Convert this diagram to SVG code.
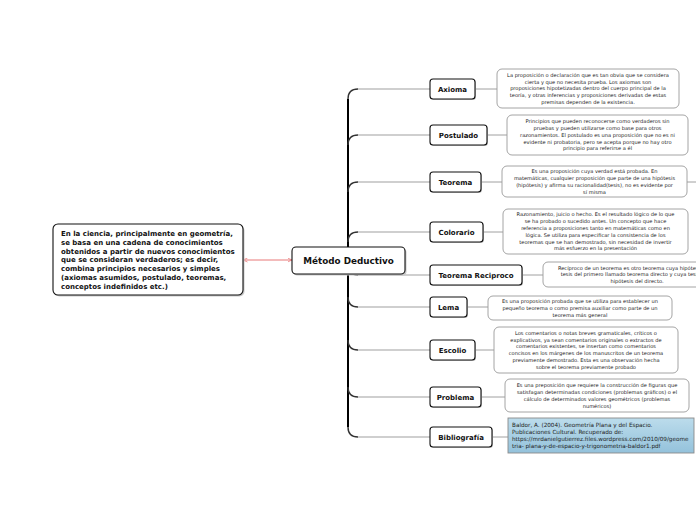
<svg xmlns="http://www.w3.org/2000/svg" width="696" height="520" viewBox="0 0 696 520">
<defs>
<style>
.node rect.b{fill:#fff;stroke:#111;stroke-width:1.1}
.node rect.s{fill:#c8c8c8}
.node text{font-family:"DejaVu Sans",Verdana,sans-serif;font-weight:bold;font-size:7px;fill:#111;text-anchor:middle}
.desc rect{fill:#fff;stroke:#9a9a9a;stroke-width:0.9}
.desc text{font-family:"DejaVu Sans",Verdana,sans-serif;font-size:5.1px;fill:#222;text-anchor:middle}
.bib text{text-anchor:start;font-size:5.7px;fill:#222}
.curve{fill:none;stroke:#333;stroke-width:1.4}
.line{fill:none;stroke:#a0a0a0;stroke-width:1.1}
.dl{fill:none;stroke:#a0a0a0;stroke-width:1}
</style>
<marker id="ar" viewBox="0 0 10 10" refX="9" refY="5" markerWidth="5" markerHeight="5" orient="auto-start-reverse">
<path d="M0,1 L9,5 L0,9" fill="none" stroke="#e87878" stroke-width="1.5"/>
</marker>
<linearGradient id="bg" x1="0" y1="0" x2="0" y2="1">
<stop offset="0" stop-color="#bcdcec"/>
<stop offset="1" stop-color="#94c2db"/>
</linearGradient>
</defs>
<rect width="696" height="520" fill="#fff"/>
<g id="connectors">
<line x1="243" y1="260" x2="292" y2="260" stroke="#e87878" stroke-width="1" marker-start="url(#ar)" marker-end="url(#ar)"/>
<line x1="348" y1="99" x2="348" y2="427" stroke="#000" stroke-width="2"/>
<path class="curve" d="M348,99 Q348,89 358,89"/><path class="line" d="M358,89 L430,89"/>
<path class="curve" d="M348,145 Q348,135 358,135"/><path class="line" d="M358,135 L430,135"/>
<path class="curve" d="M348,192 Q348,182 358,182"/><path class="line" d="M358,182 L430,182"/>
<path class="curve" d="M348,242 Q348,232 358,232"/><path class="line" d="M358,232 L430,232"/>
<path class="curve" d="M348,265 Q348,275 358,275"/><path class="line" d="M358,275 L430,275"/>
<path class="curve" d="M348,297 Q348,307 358,307"/><path class="line" d="M358,307 L430,307"/>
<path class="curve" d="M348,340 Q348,350 358,350"/><path class="line" d="M358,350 L430,350"/>
<path class="curve" d="M348,387 Q348,397 358,397"/><path class="line" d="M358,397 L430,397"/>
<path class="curve" d="M348,427 Q348,437 358,437"/><path class="line" d="M358,437 L430,437"/>
<path class="dl" d="M475,89 L497,89"/>
<path class="dl" d="M487,135 L507,135"/>
<path class="dl" d="M481,182 L502,182"/>
<path class="dl" d="M687,182 L696,182"/>
<path class="dl" d="M483,232 L503,232"/>
<path class="dl" d="M522,275 L543,275"/>
<path class="dl" d="M467,307 L488,307"/>
<path class="dl" d="M475,350 L494,350"/>
<path class="dl" d="M481,397 L505,397"/>
<path class="dl" d="M492,437 L508,437"/>
</g>
<g id="intro" class="node">
<rect class="s" x="54.5" y="225.5" width="190" height="71" rx="5"/>
<rect class="b" x="53" y="224" width="190" height="71" rx="5"/>
<text x="61" y="236" style="text-anchor:start">En la ciencia, principalmente en geometría,</text>
<text x="61" y="244.8" style="text-anchor:start">se basa en una cadena de conocimientos</text>
<text x="61" y="253.6" style="text-anchor:start">obtenidos a partir de nuevos conocimientos</text>
<text x="61" y="262.4" style="text-anchor:start">que se consideran verdaderos; es decir,</text>
<text x="61" y="271.2" style="text-anchor:start">combina principios necesarios y simples</text>
<text x="61" y="280" style="text-anchor:start">(axiomas asumidos, postulado, teoremas,</text>
<text x="61" y="288.8" style="text-anchor:start">conceptos indefinidos etc.)</text>
</g>
<g id="metodo" class="node">
<rect class="s" x="293.5" y="248.5" width="113" height="27" rx="4"/>
<rect class="b" x="292" y="247" width="113" height="27" rx="4"/>
<text x="348.5" y="263.6" style="font-size:8.8px">Método Deductivo</text>
</g>
<g id="axioma" class="node">
<rect class="s" x="431" y="80" width="45" height="20" rx="3"/>
<rect class="b" x="430" y="79" width="45" height="20" rx="3"/>
<text x="452.5" y="91.5">Axioma</text>
</g>
<g id="postulado" class="node">
<rect class="s" x="431" y="126" width="57" height="20" rx="3"/>
<rect class="b" x="430" y="125" width="57" height="20" rx="3"/>
<text x="458.5" y="137.5">Postulado</text>
</g>
<g id="teorema" class="node">
<rect class="s" x="431" y="173" width="51" height="20" rx="3"/>
<rect class="b" x="430" y="172" width="51" height="20" rx="3"/>
<text x="455.5" y="184.5">Teorema</text>
</g>
<g id="colorario" class="node">
<rect class="s" x="431" y="223" width="53" height="20" rx="3"/>
<rect class="b" x="430" y="222" width="53" height="20" rx="3"/>
<text x="456.5" y="234.5">Colorario</text>
</g>
<g id="reciproco" class="node">
<rect class="s" x="431" y="266" width="92" height="20" rx="3"/>
<rect class="b" x="430" y="265" width="92" height="20" rx="3"/>
<text x="476" y="277.5">Teorema Reciproco</text>
</g>
<g id="lema" class="node">
<rect class="s" x="431" y="298" width="37" height="20" rx="3"/>
<rect class="b" x="430" y="297" width="37" height="20" rx="3"/>
<text x="448.5" y="309.5">Lema</text>
</g>
<g id="escolio" class="node">
<rect class="s" x="431" y="341" width="45" height="20" rx="3"/>
<rect class="b" x="430" y="340" width="45" height="20" rx="3"/>
<text x="452.5" y="352.5">Escolio</text>
</g>
<g id="problema" class="node">
<rect class="s" x="431" y="388" width="51" height="20" rx="3"/>
<rect class="b" x="430" y="387" width="51" height="20" rx="3"/>
<text x="455.5" y="399.5">Problema</text>
</g>
<g id="bibliografia" class="node">
<rect class="s" x="431" y="428" width="62" height="20" rx="3"/>
<rect class="b" x="430" y="427" width="62" height="20" rx="3"/>
<text x="461" y="439.5">Bibliografía</text>
</g>
<g id="axioma-desc" class="desc">
<rect x="497" y="69" width="182" height="39" rx="5"/>
<text x="588" y="76.7">La proposición o declaración que es tan obvia que se considera</text>
<text x="588" y="83.5">cierta y que no necesita prueba. Los axiomas son</text>
<text x="588" y="90.3">proposiciones hipotetizadas dentro del cuerpo principal de la</text>
<text x="588" y="97.1">teoría, y otras inferencias y proposiciones derivadas de estas</text>
<text x="588" y="103.9">premisas dependen de la existencia.</text>
</g>
<g id="postulado-desc" class="desc">
<rect x="507" y="115" width="181" height="40" rx="5"/>
<text x="597.5" y="123.2">Principios que pueden reconocerse como verdaderos sin</text>
<text x="597.5" y="130">pruebas y pueden utilizarse como base para otros</text>
<text x="597.5" y="136.8">razonamientos. El postulado es una proposición que no es ni</text>
<text x="597.5" y="143.6">evidente ni probatoria, pero se acepta porque no hay otro</text>
<text x="597.5" y="150.4">principio para referirse a él</text>
</g>
<g id="teorema-desc" class="desc">
<rect x="502" y="166" width="185" height="31" rx="5"/>
<text x="594.5" y="173.1">Es una proposición cuya verdad está probada. En</text>
<text x="594.5" y="179.9">matemáticas, cualquier proposición que parte de una hipótesis</text>
<text x="594.5" y="186.7">(hipótesis) y afirma su racionalidad(tesis), no es evidente por</text>
<text x="594.5" y="193.5">sí misma</text>
</g>
<g id="colorario-desc" class="desc">
<rect x="503" y="209" width="185" height="45" rx="5"/>
<text x="595.5" y="216.3">Razonamiento, juicio o hecho. Es el resultado lógico de lo que</text>
<text x="595.5" y="223.1">se ha probado o sucedido antes. Un concepto que hace</text>
<text x="595.5" y="229.9">referencia a proposiciones tanto en matemáticas como en</text>
<text x="595.5" y="236.7">lógica. Se utiliza para especificar la consistencia de los</text>
<text x="595.5" y="243.5">teoremas que se han demostrado, sin necesidad de invertir</text>
<text x="595.5" y="250.3">más esfuerzo en la presentación</text>
</g>
<g id="reciproco-desc" class="desc">
<rect x="543" y="262" width="188" height="25" rx="5"/>
<text x="637" y="269.5">Recíproco de un teorema es otro teorema cuya hipótesis es la</text>
<text x="637" y="276.3">tesis del primero llamado teorema directo y cuya tesis es la</text>
<text x="637" y="283.1">hipótesis del directo.</text>
</g>
<g id="lema-desc" class="desc">
<rect x="488" y="296" width="184" height="24" rx="5"/>
<text x="580" y="303">Es una proposición probada que se utiliza para establecer un</text>
<text x="580" y="309.8">pequeño teorema o como premisa auxiliar como parte de un</text>
<text x="580" y="316.6">teorema más general</text>
</g>
<g id="escolio-desc" class="desc">
<rect x="494" y="327" width="184" height="46" rx="5"/>
<text x="586" y="334.8">Los comentarios o notas breves gramaticales, críticos o</text>
<text x="586" y="341.6">explicativos, ya sean comentarios originales o extractos de</text>
<text x="586" y="348.4">comentarios existentes, se insertan como comentarios</text>
<text x="586" y="355.2">concisos en los márgenes de los manuscritos de un teorema</text>
<text x="586" y="362">previamente demostrado. Esta es una observación hecha</text>
<text x="586" y="368.8">sobre el teorema previamente probado</text>
</g>
<g id="problema-desc" class="desc">
<rect x="505" y="379" width="184" height="33" rx="5"/>
<text x="597" y="387.1">Es una preposición que requiere la construcción de figuras que</text>
<text x="597" y="393.9">satisfagan determinadas condiciones (problemas gráficos) o el</text>
<text x="597" y="400.7">cálculo de determinados valores geométricos (problemas</text>
<text x="597" y="407.5">numéricos)</text>
</g>
<g id="bibliografia-desc" class="desc bib">
<rect x="508" y="418" width="186" height="35" rx="0" style="fill:url(#bg);stroke:#8a8a8a"/>
<text x="512" y="426.6">Baldor, A. (2004). Geometría Plana y del Espacio.</text>
<text x="512" y="433.8">Publicaciones Cultural. Recuperado de:</text>
<text x="512" y="441">https://mrdanielgutierrez.files.wordpress.com/2010/09/geome</text>
<text x="512" y="448.2">tria- plana-y-de-espacio-y-trigonometria-baldor1.pdf</text>
</g>
</svg>
